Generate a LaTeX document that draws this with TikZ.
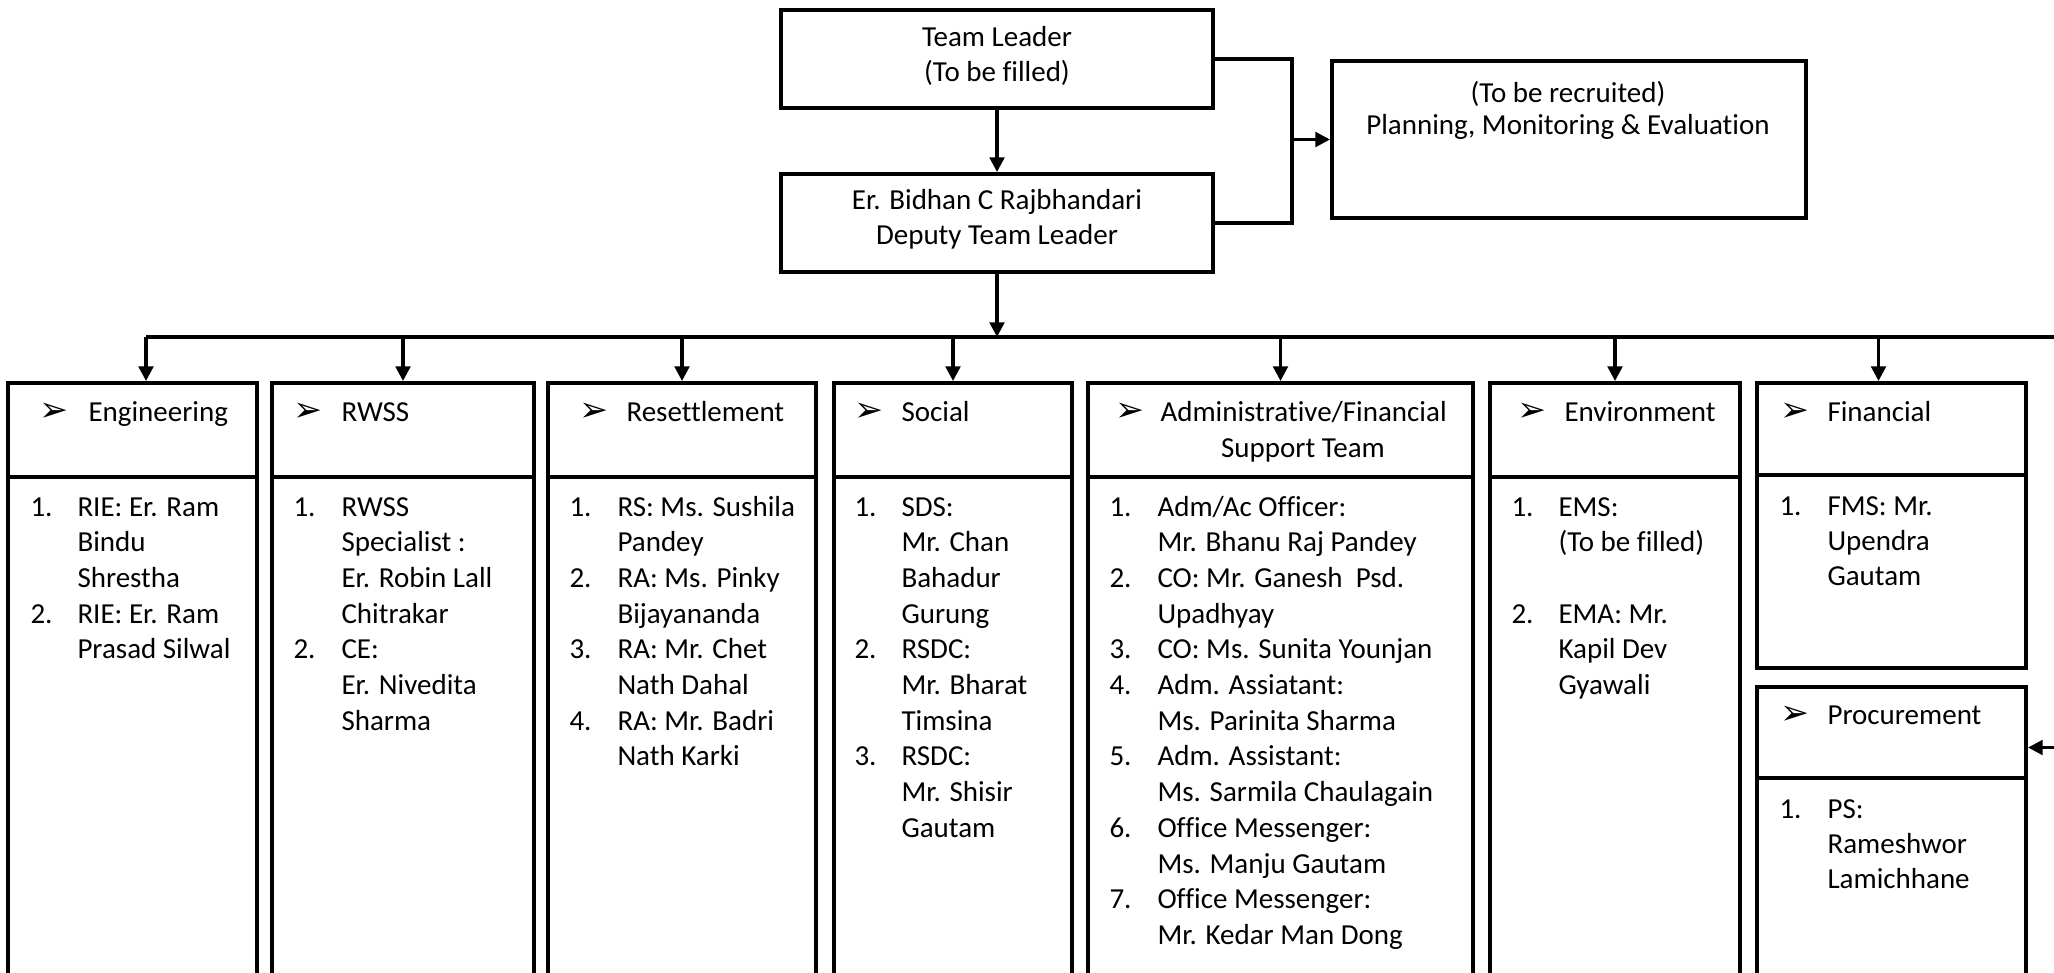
\documentclass[tikz,border=0pt]{standalone}
\usepackage{fontspec}
\setmainfont{Carlito}[Ligatures=NoCommon]
\newfontfamily\dingfont{DejaVu Sans}
\usetikzlibrary{arrows.meta,calc,fit}

\newcommand{\bul}{{\dingfont\fontsize{26pt}{26pt}\selectfont ➢}}

\tikzset{every picture/.style={line width=0.75pt}}
\tikzset{
  box/.style={draw, line width=3pt, inner sep=0pt},
  txt/.style={inner sep=0pt, font=\fontsize{21.75pt}{26.8pt}\selectfont},
  wire/.style={line width=2.4pt},
  arr/.style={wire, -{Triangle[length=11pt,width=11pt]}},
}

\begin{document}
\begin{tikzpicture}[x=0.75pt,y=0.75pt,yscale=-1,xscale=1]
\useasboundingbox (0,0) rectangle (2054,973);
\clip (0,0) rectangle (2054,973);

%Shape: Rectangle [id:tl]
\node[box, fit={(781,10) (1213,108)}] (tl) {};
\node[txt, anchor=base] (tl-t1) at (997,47) {Team Leader};
\node[txt, anchor=base] (tl-t2) at (997,82) {(To be filled)};
%Shape: Rectangle [id:dtl]
\node[box, fit={(781,174) (1213,272)}] (dtl) {};
\node[txt, anchor=base] (dtl-t1) at (997,210) {Er. Bidhan C Rajbhandari};
\node[txt, anchor=base] (dtl-t2) at (997,245) {Deputy Team Leader};
%Shape: Rectangle [id:pme]
\node[box, fit={(1332,61) (1806,218)}] (pme) {};
\node[txt, anchor=base] (pme-t1) at (1568,103) {(To be recruited)};
\node[txt, anchor=base] (pme-t2) at (1568,135) {Planning, Monitoring \& Evaluation};

%Shape: Rectangle -- header and body of each column
\foreach \c/\l/\r in {eng/8/257, rwss/272/534, res/548/816, soc/834/1072, adm/1088/1473, env/1490/1740}{
  \node[box, fit={(\l,383) (\r,477)}] (\c-hd) {};
  \node[box, fit={(\l,477) (\r,1000)}] (\c-bd) {};
}
\node[box, fit={(1757,383) (2026,475)}] (fin-hd) {};
\node[box, fit={(1757,475) (2026,668)}] (fin-bd) {};
\node[box, fit={(1757,687) (2026,778)}] (proc-hd) {};
\node[box, fit={(1757,778) (2026,1000)}] (proc-bd) {};

% Text Node -- headers
\foreach \c/\bx/\tx/\h in {eng/39/88/Engineering, rwss/293/341/RWSS, res/579/626/Resettlement, soc/854/901/Social, adm/1115/1160/{Administrative/Financial}, env/1517/1564/Environment, fin/1780/1827/Financial}{
  \node[txt, anchor=base west] (\c-bul) at (\bx,421) {\bul};
  \node[txt, anchor=base west] (\c-ttl) at (\tx,421) {\h};
}
\node[txt, anchor=base] (adm-ttl2) at (1303,457) {Support Team};
\node[txt, anchor=base west] (proc-bul) at (1780,724) {\bul};
\node[txt, anchor=base west] (proc-ttl) at (1827,724) {Procurement};

% Text Node -- Engineering
\foreach \t [count=\i from 0] in {RIE: Er. Ram, Bindu, Shrestha, RIE: Er. Ram, Prasad Silwal}
  \node[txt, anchor=base west] (eng-l\i) at (77,516+35.7*\i) {\t};
\foreach \k/\n in {0/1., 3/2.}
  \node[txt, anchor=base west] (eng-n\k) at (30,516+35.7*\k) {\n};

% Text Node -- RWSS
\foreach \t [count=\i from 0] in {RWSS, Specialist :, Er. Robin Lall, Chitrakar, CE:, Er. Nivedita, Sharma}
  \node[txt, anchor=base west] (rwss-l\i) at (341,516+35.7*\i) {\t};
\foreach \k/\n in {0/1., 4/2.}
  \node[txt, anchor=base west] (rwss-n\k) at (293,516+35.7*\k) {\n};

% Text Node -- Resettlement
\foreach \t [count=\i from 0] in {RS: Ms. Sushila, Pandey, RA: Ms. Pinky, Bijayananda, RA: Mr. Chet, Nath Dahal, RA: Mr. Badri, Nath Karki}
  \node[txt, anchor=base west] (res-l\i) at (617,516+35.7*\i) {\t};
\foreach \k/\n in {0/1., 2/2., 4/3., 6/4.}
  \node[txt, anchor=base west] (res-n\k) at (569,516+35.7*\k) {\n};

% Text Node -- Social
\foreach \t [count=\i from 0] in {SDS:, Mr. Chan, Bahadur, Gurung, RSDC:, Mr. Bharat, Timsina, RSDC:, Mr. Shisir, Gautam}
  \node[txt, anchor=base west] (soc-l\i) at (901,516+35.7*\i) {\t};
\foreach \k/\n in {0/1., 4/2., 7/3.}
  \node[txt, anchor=base west] (soc-n\k) at (854,516+35.7*\k) {\n};

% Text Node -- Administrative/Financial Support Team
\foreach \t [count=\i from 0] in {Adm/Ac Officer:, Mr. Bhanu Raj Pandey, CO: Mr. Ganesh~~Psd., Upadhyay, CO: Ms. Sunita Younjan, Adm. Assiatant:, Ms. Parinita Sharma, Adm. Assistant:, Ms. Sarmila Chaulagain, Office Messenger:, Ms. Manju Gautam, Office Messenger:, Mr. Kedar Man Dong}
  \node[txt, anchor=base west] (adm-l\i) at (1157,516+35.7*\i) {\t};
\foreach \k/\n in {0/1., 2/2., 4/3., 5/4., 7/5., 9/6., 11/7.}
  \node[txt, anchor=base west] (adm-n\k) at (1109,516+35.7*\k) {\n};

% Text Node -- Environment
\foreach \k/\t in {0/EMS:, 1/(To be filled), 3/EMA: Mr., 4/Kapil Dev, 5/Gyawali}
  \node[txt, anchor=base west] (env-l\k) at (1558,516+35.7*\k) {\t};
\foreach \k/\n in {0/1., 3/2.}
  \node[txt, anchor=base west] (env-n\k) at (1511,516+35.7*\k) {\n};

% Text Node -- Financial and Procurement
\foreach \t [count=\i from 0] in {FMS: Mr., Upendra, Gautam}
  \node[txt, anchor=base west] (fin-l\i) at (1827,515+35*\i) {\t};
\node[txt, anchor=base west] (fin-n0) at (1779,515) {1.};
\foreach \t [count=\i from 0] in {PS:, Rameshwor, Lamichhane}
  \node[txt, anchor=base west] (proc-l\i) at (1827,818+35*\i) {\t};
\node[txt, anchor=base west] (proc-n0) at (1779,818) {1.};

\coordinate (brk) at (1292,59);
\coordinate (bus) at (146,337);
\coordinate (busR) at (2080,337);
\coordinate (finin) at ($(fin-hd.north)+(-13,0)$);

%Straight Lines [id:links]
\draw[arr] (tl) -- (dtl);
\draw[wire] (tl.east) -- (brk) |- (dtl.east);
\draw[arr] (brk |- pme.west) -- (pme.west);
\draw[arr] (dtl.south) -- (dtl.south |- bus);
\draw[arr] (bus) -- (busR) |- ($(proc-hd.east)+(0,15)$);
\draw[arr] (bus) -- (bus |- eng-hd.north);
\foreach \c in {rwss,res,soc,adm,env}
  \draw[arr] (\c-hd.north |- bus) -- (\c-hd.north);
\draw[arr] (finin |- bus) -- (finin);

\end{tikzpicture}
\end{document}
